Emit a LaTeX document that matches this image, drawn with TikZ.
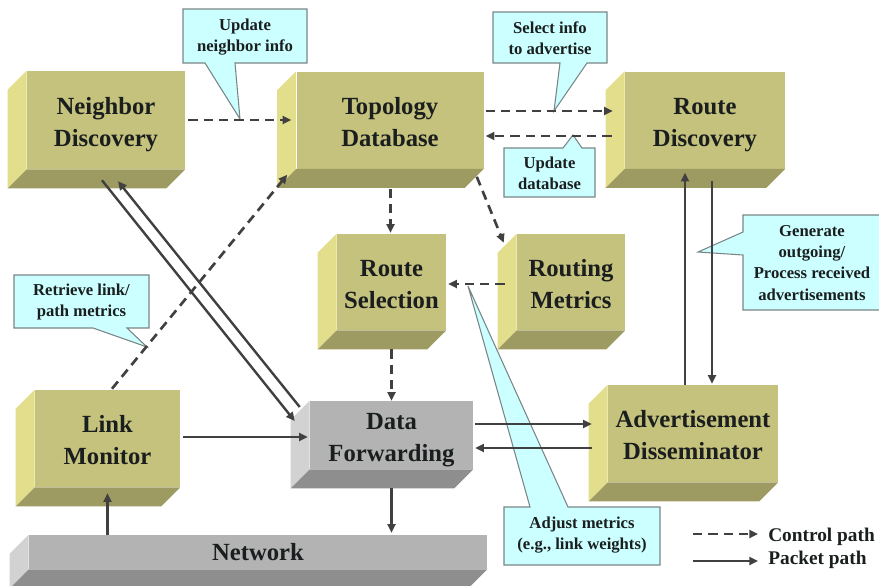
\documentclass[tikz,border=0pt]{standalone}
\usepackage{fontspec}
\setmainfont{Liberation Serif}
\usetikzlibrary{arrows.meta}

\definecolor{oliveFront}{HTML}{C4C27C}
\definecolor{oliveSide}{HTML}{E2DE8C}
\definecolor{oliveBottom}{HTML}{9D9B61}
\definecolor{grayFront}{HTML}{B3B3B3}
\definecolor{graySide}{HTML}{D2D2D2}
\definecolor{grayBottom}{HTML}{8E8E8E}
\definecolor{calloutFill}{HTML}{CCFFFF}
\definecolor{calloutEdge}{HTML}{7A8686}
\definecolor{wire}{HTML}{404040}
\definecolor{txt}{HTML}{1A1E1E}

% side and bottom faces of a raised block, drawn next to its front face
\newcommand\blockfaces[3]{%
  \fill[#2] (#1.north west) -- ++(-19,19) -- ([shift={(-19,19)}]#1.south west) -- (#1.south west) -- cycle;
  \fill[#3] (#1.south west) -- (#1.south east) -- ++(-19,19) -- ([shift={(-19,19)}]#1.south west) -- cycle;
}
% two-line block caption, set a little below the optical centre
\newcommand\blocklabel[1]{\raisebox{-3pt}[\height][\depth]{\begin{tabular}{@{}c@{}}#1\end{tabular}}}

\begin{document}
\begin{tikzpicture}[x=0.75pt,y=-0.75pt,
  boxtext/.style={font=\bfseries\fontsize{18.5}{24}\selectfont, text=txt, align=center, inner sep=0pt},
  obox/.style={boxtext, fill=oliveFront},
  gbox/.style={boxtext, fill=grayFront},
  tip/.style={-{Triangle[length=6.5pt,width=6pt]}},
  ctrl/.style={draw=wire, line width=2pt, dash pattern=on 7pt off 4.5pt, tip},
  pkt/.style={draw=wire, line width=1.8pt, tip},
  ctext/.style={font=\bfseries\fontsize{12.5}{15.8}\selectfont, text=txt, align=center, inner sep=0pt},
  legtext/.style={font=\bfseries\fontsize{14.5}{16}\selectfont, text=txt, inner sep=0pt},
  callout/.style={fill=calloutFill, draw=calloutEdge, line width=0.8pt}
]
\useasboundingbox (0,0) rectangle (879,586);

% ---------- blocks ----------
\node[obox, minimum width=158*0.75pt, minimum height=98*0.75pt] (nd) at (106,120) {\blocklabel{Neighbor\\Discovery}};
\node[obox, minimum width=187*0.75pt, minimum height=97*0.75pt] (td) at (390,120) {\blocklabel{Topology\\Database}};
\node[obox, minimum width=160*0.75pt, minimum height=97*0.75pt] (rd) at (705,120) {\blocklabel{Route\\Discovery}};
\node[obox, minimum width=109*0.75pt, minimum height=96*0.75pt] (rs) at (391.5,282) {\blocklabel{Route\\Selection}};
\node[obox, minimum width=108*0.75pt, minimum height=96*0.75pt] (rm) at (571,282) {\blocklabel{Routing\\Metrics}};
\node[obox, minimum width=145*0.75pt, minimum height=97*0.75pt] (lm) at (107.5,438.5) {\blocklabel{Link\\Monitor}};
\node[gbox, minimum width=163*0.75pt, minimum height=68*0.75pt] (df) at (391.5,435) {\blocklabel{Data\\Forwarding}};
\node[obox, minimum width=170*0.75pt, minimum height=97*0.75pt] (ad) at (693,433.5) {\blocklabel{Advertisement\\Disseminator}};
\node[gbox, minimum width=458*0.75pt, minimum height=34*0.75pt] (nw) at (258,552) {Network};

\blockfaces{nd}{oliveSide}{oliveBottom}
\blockfaces{td}{oliveSide}{oliveBottom}
\blockfaces{rd}{oliveSide}{oliveBottom}
\blockfaces{rs}{oliveSide}{oliveBottom}
\blockfaces{rm}{oliveSide}{oliveBottom}
\blockfaces{lm}{oliveSide}{oliveBottom}
\blockfaces{df}{graySide}{grayBottom}
\blockfaces{ad}{oliveSide}{oliveBottom}
\blockfaces{nw}{graySide}{grayBottom}

% ---------- callouts ----------
\path[callout] (183,9) -- (307,9) -- (307,63) -- (235,63) -- (240,119) -- (205,63) -- (183,63) -- cycle;
\node[ctext] (c1) at (245,37) {Update\\neighbor info};

\path[callout] (493,12) -- (607,12) -- (607,63) -- (587,63) -- (554,111) -- (560,63) -- (493,63) -- cycle;
\node[ctext] (c2) at (550,38) {Select info\\to advertise};

\path[callout] (504,148) -- (563,148) -- (573,135) -- (582,148) -- (595,148) -- (595,197) -- (504,197) -- cycle;
\node[ctext] (c3) at (549.5,173) {Update\\database};

\path[callout] (743,215) -- (890,215) -- (890,310) -- (743,310) -- (743,255) -- (698,252) -- (743,232) -- cycle;
\node[ctext] (c4) at (812,263) {Generate\\outgoing/\\Process received\\advertisements};

\path[callout] (14,275) -- (149,275) -- (149,328) -- (127,328) -- (147,347) -- (93,328) -- (14,328) -- cycle;
\node[ctext] (c5) at (81.5,302) {Retrieve link/\\path metrics};

\path[callout] (504,507) -- (530,507) -- (468,286) -- (568,507) -- (660,507) -- (660,565) -- (504,565) -- cycle;
\node[ctext] (c6) at (582,535) {Adjust metrics\\(e.g., link weights)};

% ---------- control paths ----------
\draw[ctrl] ([shift={(3,0)}]nd.east) -- ([shift={(-5,0)}]td.west);
\draw[ctrl] ([shift={(2,-9)}]td.east) -- ([shift={(-12,-9)}]rd.west);
\draw[ctrl] ([shift={(-13,16)}]rd.west) -- ([shift={(2,16)}]td.east);
\draw[ctrl] ([shift={(0.5,20)}]td.south) -- ([shift={(-1,-1)}]rs.north);
\draw[ctrl] ([shift={(-7,8)}]td.south east) -- ([shift={(-13,9)}]rm.north west);
\draw[ctrl] ([shift={(-12,2)}]rm.west) -- ([shift={(2,2)}]rs.east);
\draw[ctrl] ([shift={(0,19)}]rs.south) -- (df.north);
\draw[ctrl] ([shift={(4.5,-1)}]lm.north) -- ([shift={(-9,6)}]td.south west);

% ---------- packet paths ----------
\draw[pkt] ([shift={(-4,11)}]nd.south) -- ([shift={(-15,-14)}]df.west);
\draw[pkt] ([shift={(-10,-28)}]df.west) -- ([shift={(12,12)}]nd.south);
\draw[pkt] ([shift={(3,-1.5)}]lm.east) -- ([shift={(-2,2)}]df.west);
\draw[pkt] ([shift={(2,-11)}]df.east) -- ([shift={(-16,-9.5)}]ad.west);
\draw[pkt] ([shift={(-16,14.5)}]ad.west) -- ([shift={(2,13)}]df.east);
\draw[pkt] ([shift={(-8,0)}]ad.north) -- ([shift={(-20,4)}]rd.south);
\draw[pkt] ([shift={(7,12)}]rd.south) -- ([shift={(19,-1)}]ad.north);
\coordinate (dfdrop) at (df.south |- nw.north);
\draw[pkt] ([shift={(0,19)}]df.south) -- ([shift={(0,-2)}]dfdrop);
\coordinate (lmrise) at (lm.south |- nw.north);
\draw[pkt] (lmrise) -- ([shift={(0,6)}]lm.south);

% ---------- legend ----------
\coordinate (ctrlA) at (693,534);
\coordinate (ctrlB) at (758,534);
\coordinate (pktA) at (693,561);
\coordinate (pktB) at (758,561);
\draw[ctrl] (ctrlA) -- (ctrlB);
\draw[pkt] (pktA) -- (pktB);
\node[legtext, anchor=base west] (ctrlLbl) at (768,541) {Control path};
\node[legtext, anchor=base west] (pktLbl) at (768,564) {Packet path};
\end{tikzpicture}
\end{document}
